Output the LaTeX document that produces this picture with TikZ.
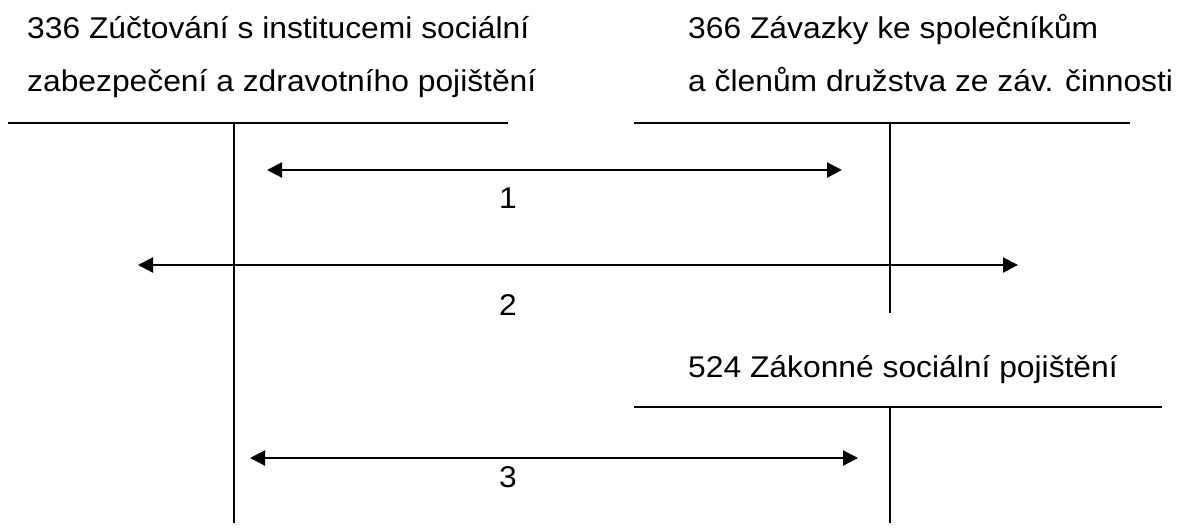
\documentclass[tikz,border=0pt]{standalone}
\usepackage{fontspec}
\setmainfont{Liberation Sans}[FakeStretch=1.06]
\usetikzlibrary{arrows.meta, positioning}

\begin{document}
\begin{tikzpicture}[x=1pt, y=-1pt,
  konto/.style={line width=1.5pt},
  tok/.style={{Triangle[length=15pt, width=15pt]}-{Triangle[length=15pt, width=15pt]}, line width=2.2pt},
  nazev/.style={anchor=base west, inner sep=0pt, font=\fontsize{30}{36}\selectfont},
  cislo/.style={inner sep=0pt, font=\fontsize{30}{36}\selectfont},
]
  \useasboundingbox (0,0) rectangle (1178,528);

  % ucet 336
  \node[nazev] (u336a) at (27,38) {336 Zúčtování s institucemi sociální};
  \node[nazev] (u336b) at (27,91) {zabezpečení a zdravotního pojištění};
  \coordinate (k1l) at (8,123);
  \coordinate (k1r) at (508,123);
  \coordinate (k1t) at (234,123);
  \coordinate (k1b) at (234,523);
  \draw[konto] (k1l) -- (k1r);
  \draw[konto] (k1t) -- (k1b);

  % ucet 366
  \node[nazev] (u366a) at (688,38) {366 Závazky ke společníkům};
  \node[nazev] (u366b) at (688,91) {a členům družstva ze záv. činnosti};
  \coordinate (k2l) at (634,123);
  \coordinate (k2r) at (1130,123);
  \coordinate (k2t) at (890,123);
  \coordinate (k2b) at (890,313);
  \draw[konto] (k2l) -- (k2r);
  \draw[konto] (k2t) -- (k2b);

  % ucet 524
  \node[nazev] (u524) at (688,377) {524 Zákonné sociální pojištění};
  \coordinate (k3l) at (634,407);
  \coordinate (k3r) at (1162,407);
  \coordinate (k3t) at (890,407);
  \coordinate (k3b) at (890,523);
  \draw[konto] (k3l) -- (k3r);
  \draw[konto] (k3t) -- (k3b);

  % operace
  \coordinate (o1l) at (267,170);
  \coordinate (o1r) at (842,170);
  \coordinate (o2l) at (138,265);
  \coordinate (o2r) at (1018,265);
  \coordinate (o3l) at (250,458);
  \coordinate (o3r) at (858,458);
  \draw[tok] (o1l) -- (o1r);
  \draw[tok] (o2l) -- (o2r);
  \draw[tok] (o3l) -- (o3r);
  \node[cislo] (c1) at (508,198) {1};
  \node[cislo] (c2) at (508,305) {2};
  \node[cislo] (c3) at (508,477) {3};
\end{tikzpicture}
\end{document}
